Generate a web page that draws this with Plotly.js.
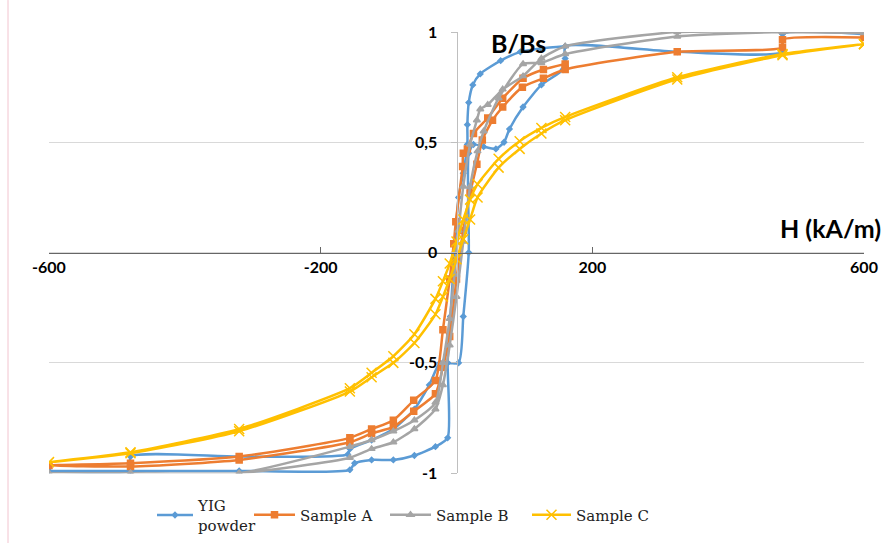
<!DOCTYPE html>
<html>
<head>
<meta charset="utf-8">
<script src="https://cdn.plot.ly/plotly-3.0.1.min.js"></script>
<style>html,body{margin:0;padding:0;background:#fff;}#chart{width:893px;height:544px;}</style>
</head>
<body>
<div id="chart"></div>
<script>
// ---- data (H in kA/m, B/Bs) ----
const seriesNames = ["YIG<br>powder", "Sample A", "Sample B", "Sample C"];

const yigH = [160,125,94,65,35,24,18,16,16,10,3,-3,-9,-13,-13,-31,-62,-93,-125,-150,-157,-320,-480,-600,
              -480,-480,-320,-160,-157,-125,-93,-62,-40,-24,3,10,18,18,25,40,58,70,78,98,125,157,160,160,325,480,480,600];
const yigB = [0.935,0.925,0.91,0.87,0.81,0.76,0.68,0.58,0.49,0.36,0.25,0,-0.29,-0.5,-0.84,-0.88,-0.92,-0.94,-0.94,-0.955,-0.985,-0.99,-0.99,-0.99,
              -0.99,-0.925,-0.925,-0.915,-0.89,-0.85,-0.80,-0.71,-0.6,-0.5,-0.5,-0.29,0,0.45,0.49,0.48,0.47,0.5,0.56,0.66,0.76,0.83,0.88,0.935,0.91,0.91,0.99,0.99];

const aH = [160,128,98,68,46,25,16,10,9,-1,-4,-10,-20,-31,-63,-93,-125,-157,-320,-480,-600,
            -480,-320,-157,-125,-93,-63,-31,-20,-10,0,10,20,30,38,53,68,97,128,160,325,480,480,600];
const aB = [0.855,0.83,0.79,0.70,0.61,0.54,0.47,0.45,0.39,0.14,0.04,-0.12,-0.35,-0.58,-0.67,-0.76,-0.80,-0.84,-0.925,-0.955,-0.965,
            -0.97,-0.94,-0.86,-0.82,-0.79,-0.72,-0.64,-0.52,-0.38,-0.12,0.1,0.27,0.40,0.51,0.60,0.66,0.75,0.79,0.83,0.91,0.93,0.965,0.975];

const bH = [600,480,325,160,125,98,68,46,35,30,20,10,3,-3,-10,-20,-31,-62,-93,-125,-157,-320,-480,-600,
            -480,-320,-157,-125,-93,-62,-31,-20,-10,0,10,20,31,40,62,98,125,160,325,480];
const bB = [0.995,1.0,1.0,0.935,0.88,0.80,0.74,0.67,0.65,0.6,0.49,0.3,0.1,-0.1,-0.3,-0.5,-0.68,-0.76,-0.81,-0.85,-0.88,-1.0,-1.0,-1.0,
            -1.0,-1.0,-0.93,-0.89,-0.86,-0.80,-0.71,-0.6,-0.42,-0.2,0.05,0.3,0.46,0.55,0.70,0.855,0.86,0.90,0.98,1.0];

const cH = [600,480,325,160,125,93,62,31,20,10,0,-10,-20,-31,-62,-93,-125,-157,-320,-480,-600,
            -480,-320,-157,-125,-93,-62,-31,-20,-10,0,10,20,31,62,93,125,160,325,480,600];
const cB = [0.945,0.9,0.795,0.615,0.565,0.505,0.425,0.31,0.24,0.15,0.05,-0.05,-0.13,-0.21,-0.37,-0.47,-0.545,-0.615,-0.80,-0.905,-0.95,
            -0.91,-0.81,-0.63,-0.565,-0.50,-0.41,-0.28,-0.20,-0.12,-0.03,0.06,0.15,0.25,0.385,0.47,0.54,0.60,0.785,0.895,0.945];

const xTicks = [-600, -200, 200, 600];
const yTicks = [-1, -0.5, 0, 0.5, 1];
const yTickText = ["-1", "-0,5", "0", "0,5", "1"];

const colors = ["#5B9BD5", "#ED7D31", "#A5A5A5", "#FFC000"];
const legendFont = {family: "DejaVu Serif", size: 15, color: "#222"};

// paper area: top 32 px, bottom 540 px
const PT = 32, PB = 540, PH = PB - PT;
const py = p => (PB - p) / PH;          // pixel row -> paper fraction
const px = p => (p - 49) / 815;         // pixel column -> paper fraction

function tr(x, y, i, sym, size, legendId) {
  return {
    x: x, y: y, type: "scatter", mode: "lines+markers", name: seriesNames[i],
    legend: legendId,
    line: {color: colors[i], width: 2.5, shape: "spline", smoothing: 0.6},
    marker: {symbol: sym, size: size, color: colors[i], line: {color: colors[i], width: 1.5}},
    cliponaxis: true
  };
}

const data = [
  tr(yigH, yigB, 0, "diamond", 4, "legend"),
  tr(aH, aB, 1, "square", 6, "legend2"),
  tr(bH, bB, 2, "triangle-up", 6, "legend3"),
  tr(cH, cB, 3, "x-thin", 10, "legend4")
];

function leg(xpx, iw) {
  return {x: px(xpx), y: py(515), xref: "paper", yref: "paper", xanchor: "left", yanchor: "middle",
          font: legendFont, bgcolor: "rgba(0,0,0,0)", itemwidth: iw, tracegroupgap: 0};
}

const layout = {
  width: 893, height: 544,
  margin: {l: 49, r: 29, t: PT, b: 544 - PB},
  paper_bgcolor: "#fff", plot_bgcolor: "#fff",
  showlegend: true,
  legend: leg(152, 36), legend2: leg(249, 41), legend3: leg(385, 41), legend4: leg(527, 39),
  xaxis: {
    range: [-600, 600], anchor: "free", position: py(253),
    tickvals: xTicks, ticktext: xTicks.map(String),
    showgrid: false, zeroline: false,
    showline: true, linecolor: "#666", linewidth: 1.5,
    ticks: "inside", ticklen: 6, tickcolor: "#666", tickwidth: 1.5,
    tickfont: {family: "Lato", size: 16, color: "#000", weight: "bold"},
    fixedrange: true
  },
  yaxis: {
    range: [-1, 1], anchor: "free", position: 0.5, domain: [py(474), 1],
    tickvals: yTicks, ticktext: yTickText,
    showgrid: true, gridcolor: "#d9d9d9", gridwidth: 1,
    zeroline: false, showline: true, linecolor: "#bfbfbf", linewidth: 1.5,
    ticks: "outside", ticklen: 6, tickcolor: "#bfbfbf",
    ticklabelstandoff: 10,
    tickfont: {family: "Lato", size: 16, color: "#000", weight: "bold"},
    fixedrange: true
  },
  annotations: [
    {text: "<b>B/Bs</b>", x: px(518), y: py(43), xref: "paper", yref: "paper",
     xanchor: "center", yanchor: "middle",
     showarrow: false, font: {family: "Lato", size: 25, color: "#000"}},
    {text: "<b>H (kA/m)</b>", x: px(830), y: py(228), xref: "paper", yref: "paper",
     xanchor: "center", yanchor: "middle",
     showarrow: false, font: {family: "Lato", size: 25, color: "#000"}}
  ],
  shapes: [
    {type: "line", xref: "paper", yref: "paper", x0: px(8), x1: px(8), y0: py(0), y1: py(544),
     line: {color: "#f2c4cf", width: 1}}
  ]
};

Plotly.newPlot("chart", data, layout, {displayModeBar: false, staticPlot: true});
</script>
</body>
</html>
